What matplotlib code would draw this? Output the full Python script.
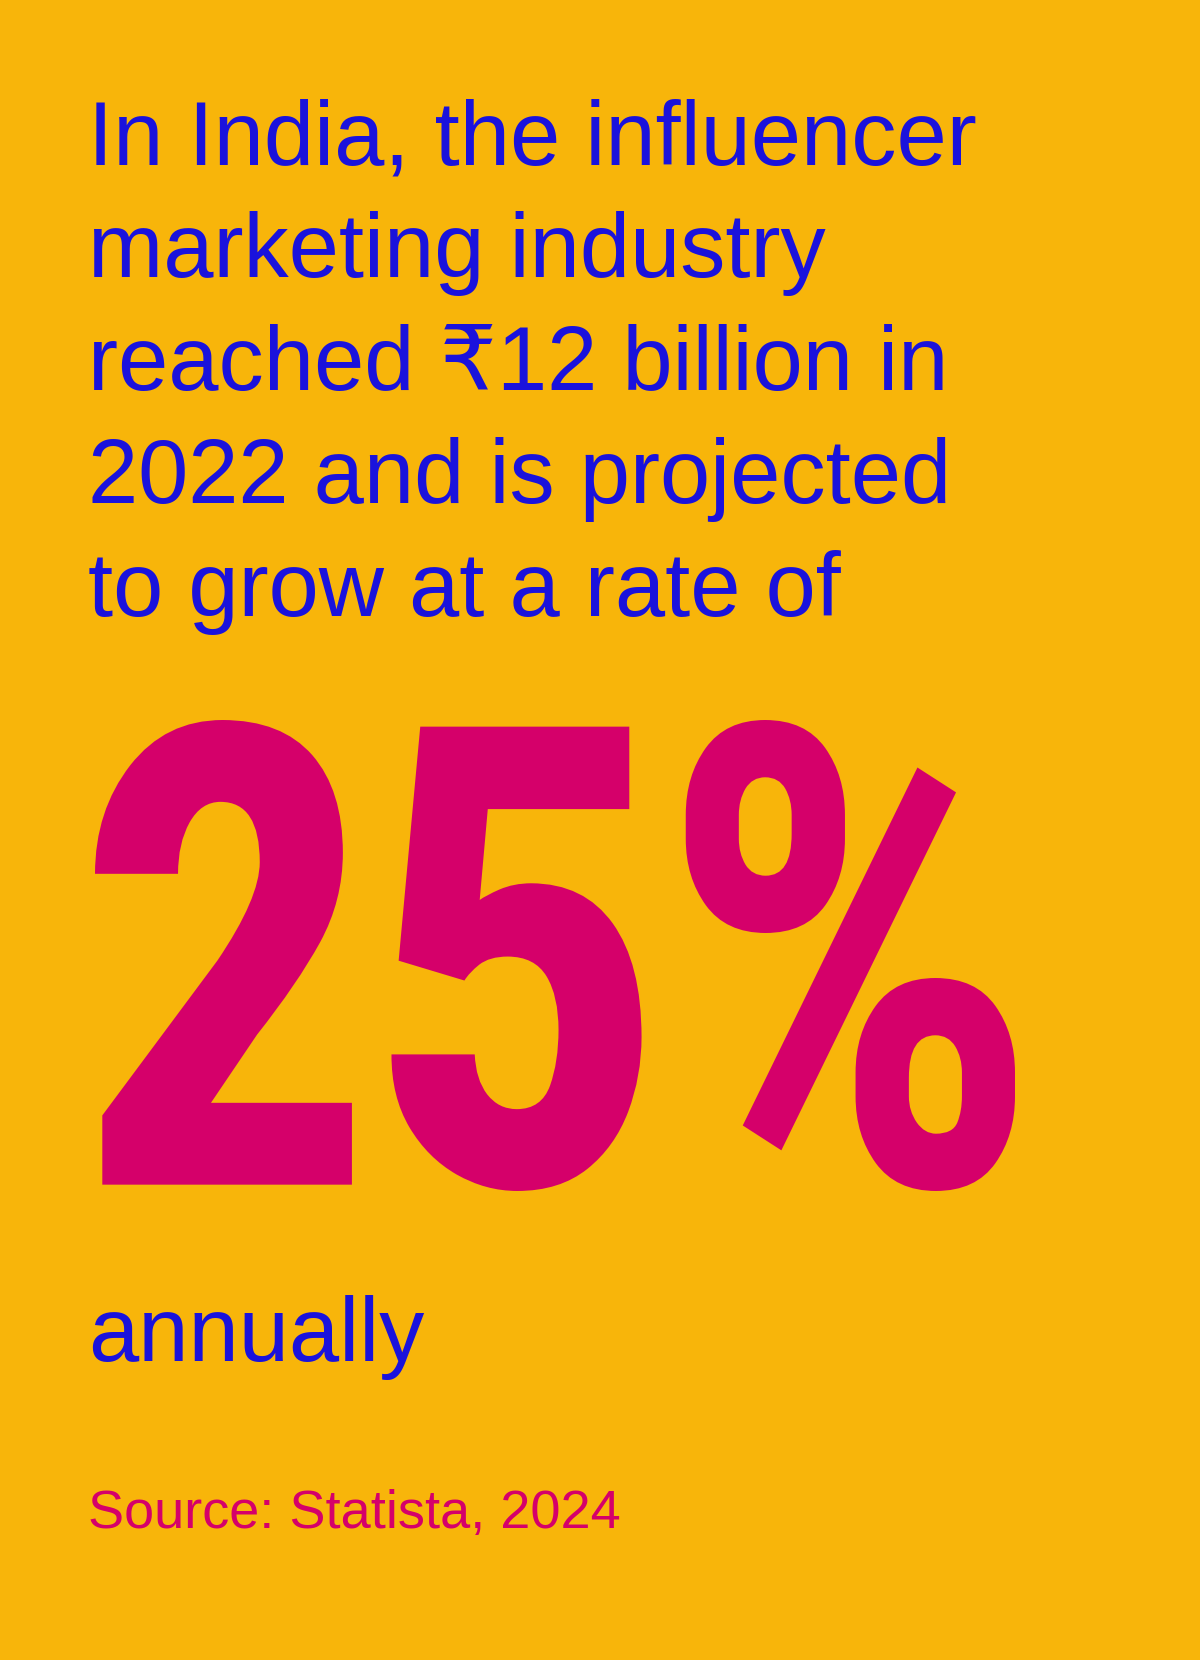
import matplotlib
matplotlib.use("Agg")
import matplotlib.pyplot as plt
from matplotlib.textpath import TextPath
from matplotlib.patches import PathPatch
from matplotlib.font_manager import FontProperties
from matplotlib.transforms import Affine2D

headline_lines = ["In India, the influencer", "marketing industry",
                  "reached ₹12 billion in", "2022 and is projected",
                  "to grow at a rate of"]
big_value = "25%"
tail_text = "annually"
source_text = "Source: Statista, 2024"

BG = "#F8B50A"
BLUE = "#1A12DC"
MAG = "#D5006A"

fig = plt.figure(figsize=(12, 16.6), dpi=100)
fig.patch.set_facecolor(BG)
ax = fig.add_axes([0, 0, 1, 1])
ax.set_xlim(0, 1200)
ax.set_ylim(1660, 0)
ax.axis("off")
ax.set_facecolor(BG)

fam = ["Liberation Sans", "DejaVu Sans"]
y0, dy = 164, 113
for i, line in enumerate(headline_lines):
    ax.text(88, y0 + i * dy, line, fontsize=65, color=BLUE, family=fam,
            va="baseline", ha="left")

fp = FontProperties(family="Roboto", weight="black")
tp = TextPath((0, 0), big_value, size=100, prop=fp)
ext = tp.get_extents()
x0, x1, yt, yb = 95, 1015, 720, 1191
sx = (x1 - x0) / ext.width
sy = (yb - yt) / ext.height
tr = Affine2D().translate(-ext.x0, -ext.y0).scale(sx, -sy).translate(x0, yb)
ax.add_patch(PathPatch(tr.transform_path(tp), facecolor=MAG, edgecolor="none"))

ax.text(88, 1361, tail_text, fontsize=65, color=BLUE, family=fam, va="baseline")
ax.text(88, 1528, source_text, fontsize=39, color=MAG, family=fam, va="baseline")

fig.savefig("out.png", dpi=100, facecolor=BG)
